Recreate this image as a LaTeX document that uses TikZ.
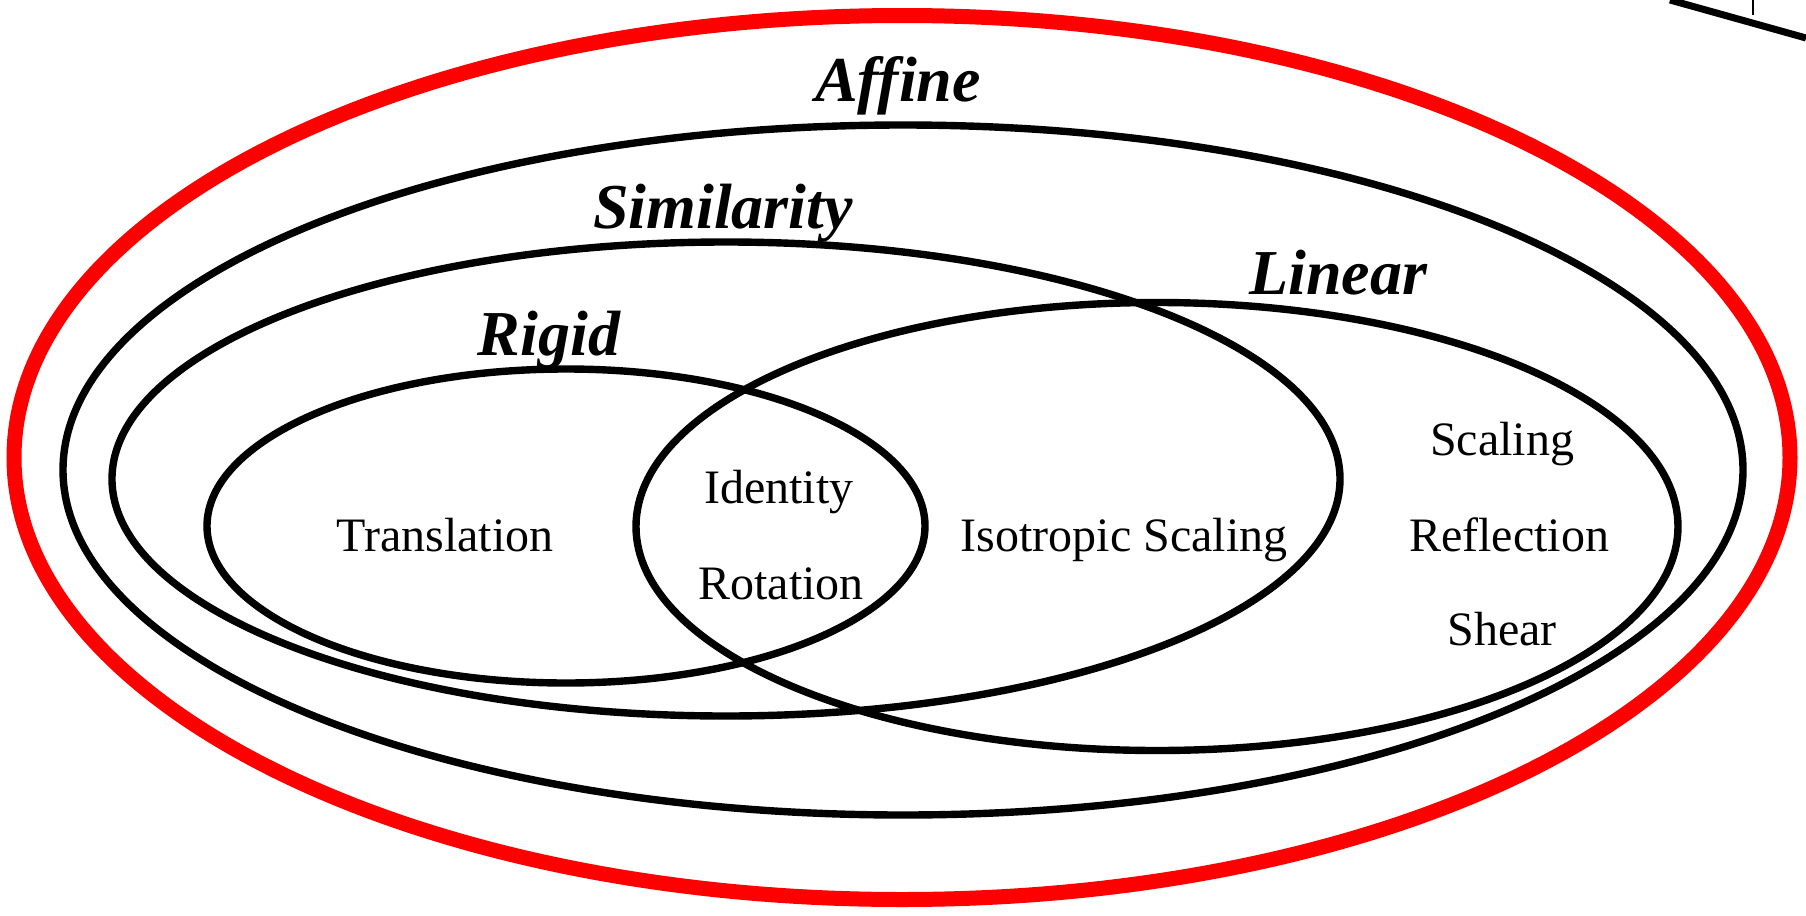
\documentclass[tikz,border=0pt]{standalone}
\usepackage{fontspec}
\setmainfont{Liberation Serif}
\begin{document}
\begin{tikzpicture}[x=0.5pt,y=-0.5pt,
  setline/.style={draw=black,line width=3.7pt},
  title/.style={font=\fontsize{32}{36}\selectfont\bfseries\itshape,anchor=base,inner sep=0pt},
  item/.style={font=\fontsize{24}{28}\selectfont,anchor=base,inner sep=0pt}]
\useasboundingbox (0,0) rectangle (1806,916);
% outer red
\draw[red,line width=7.5pt] (902,457.5) ellipse [x radius=444pt,y radius=221pt];
% affine
\draw[setline] (903,470) ellipse [x radius=420pt,y radius=172.5pt];
% similarity
\draw[setline] (726,479) ellipse [x radius=307pt,y radius=118.5pt];
% rigid
\draw[setline] (566,526) ellipse [x radius=179.5pt,y radius=78.5pt];
% linear
\draw[setline] (1157,526.5) ellipse [x radius=260.5pt,y radius=112pt];
% corner artifact
\draw[line width=3.5pt] (1670,0) -- (1806,38);
\draw[line width=1pt] (1753,0) -- (1753,15);
% labels
\node[title] (affine) at (898,101) {Affine};
\node[title] (similarity) at (723,228) {Similarity};
\node[title] (rigid) at (549,355) {Rigid};
\node[title] (linear) at (1338,294) {Linear};
\node[item] (translation) at (445,551) {Translation};
\node[item] (identity) at (779,503) {Identity};
\node[item] (rotation) at (781,599) {Rotation};
\node[item] (isotropic) at (1124,551) {Isotropic Scaling};
\node[item] (scaling) at (1502,455) {Scaling};
\node[item] (reflection) at (1509,551) {Reflection};
\node[item] (shear) at (1502,645) {Shear};
\end{tikzpicture}
\end{document}
